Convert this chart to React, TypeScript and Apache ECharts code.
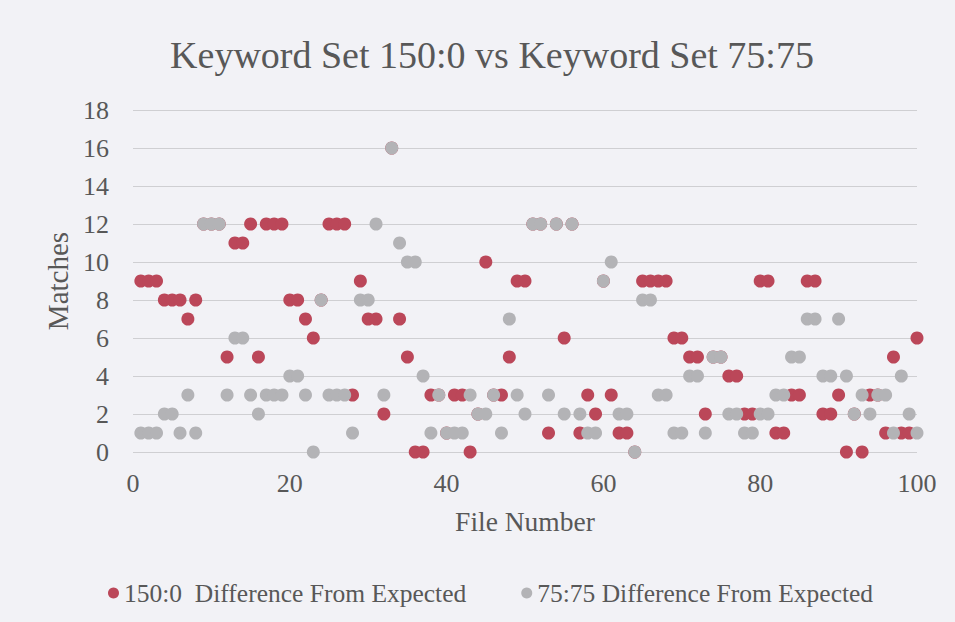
import React, { useEffect, useRef } from "react";
import * as echarts from "echarts";

const titleText = "Keyword Set 150:0 vs Keyword Set 75:75";
const xAxisName = "File Number";
const yAxisName = "Matches";
const seriesNames = ["150:0  Difference From Expected", "75:75 Difference From Expected"];

// File numbers 1..100 (index + 1)
const set150Values = [
  9, 9, 9, 8, 8, 8, 7, 8, 12, 12,
  12, 5, 11, 11, 12, 5, 12, 12, 12, 8,
  8, 7, 6, 8, 12, 12, 12, 3, 9, 7,
  7, 2, 16, 7, 5, 0, 0, 3, 3, 1,
  3, 3, 0, 2, 10, 3, 3, 5, 9, 9,
  12, 12, 1, 12, 6, 12, 1, 3, 2, 9,
  3, 1, 1, 0, 9, 9, 9, 9, 6, 6,
  5, 5, 2, 5, 5, 4, 4, 2, 2, 9,
  9, 1, 1, 3, 3, 9, 9, 2, 2, 3,
  0, 2, 0, 3, 3, 1, 5, 1, 1, 6,
];
const set7575Values = [
  1, 1, 1, 2, 2, 1, 3, 1, 12, 12,
  12, 3, 6, 6, 3, 2, 3, 3, 3, 4,
  4, 3, 0, 8, 3, 3, 3, 1, 8, 8,
  12, 3, 16, 11, 10, 10, 4, 1, 3, 1,
  1, 1, 3, 2, 2, 3, 1, 7, 3, 2,
  12, 12, 3, 12, 2, 12, 2, 1, 1, 9,
  10, 2, 2, 0, 8, 8, 3, 3, 1, 1,
  4, 4, 1, 5, 5, 2, 2, 1, 1, 2,
  2, 3, 3, 5, 5, 7, 7, 4, 4, 7,
  4, 2, 3, 2, 3, 3, 1, 4, 2, 1,
];

const toPoints = (vals: number[]) => vals.map((v, i) => [i + 1, v]);

export default function App() {
  const ref = useRef<HTMLDivElement>(null);
  useEffect(() => {
    const chart = echarts.init(ref.current!, null, { renderer: "svg" });
    const font = '"Liberation Serif", "Times New Roman", serif';
    const txt = "#585858";
    chart.setOption({
      animation: false,
      backgroundColor: "#f2f2f6",
      title: {
        text: titleText,
        left: 487,
        top: 31,
        textAlign: "center",
        textStyle: { fontFamily: font, fontSize: 38, fontWeight: "normal", color: txt },
      },
      grid: { left: 133, right: 38, top: 110, bottom: 170 },
      xAxis: {
        type: "value",
        min: 0,
        max: 100,
        interval: 20,
        axisLine: { show: false },
        axisTick: { show: false },
        splitLine: { show: false },
        axisLabel: { fontFamily: font, fontSize: 26, color: txt, margin: 18 },
        name: xAxisName,
        nameLocation: "middle",
        nameGap: 55,
        nameTextStyle: { fontFamily: font, fontSize: 27.5, color: txt },
      },
      yAxis: {
        type: "value",
        min: 0,
        max: 18,
        interval: 2,
        axisLine: { show: false },
        axisTick: { show: false },
        splitLine: { lineStyle: { color: "#cfcfd2", width: 1 } },
        axisLabel: { fontFamily: font, fontSize: 26, color: txt, margin: 24 },
        name: yAxisName,
        nameLocation: "middle",
        nameGap: 58,
        nameTextStyle: { fontFamily: font, fontSize: 29, color: txt },
      },
      legend: {
        left: 103,
        top: 575,
        itemGap: 55,
        icon: "circle",
        itemWidth: 11,
        itemHeight: 11,
        textStyle: { fontFamily: font, fontSize: 25.5, color: txt },
        data: seriesNames,
      },
      series: [
        {
          name: seriesNames[0],
          type: "scatter",
          symbol: "circle",
          symbolSize: 13,
          itemStyle: { color: "#bb4759", opacity: 1 },
          data: toPoints(set150Values),
        },
        {
          name: seriesNames[1],
          type: "scatter",
          symbol: "circle",
          symbolSize: 13,
          itemStyle: { color: "#b3b3b6", opacity: 1 },
          data: toPoints(set7575Values),
        },
      ],
    });
    return () => chart.dispose();
  }, []);
  return (
    <div
      ref={ref}
      style={{ position: "fixed", left: 0, top: 0, width: 955, height: 622 }}
    />
  );
}
